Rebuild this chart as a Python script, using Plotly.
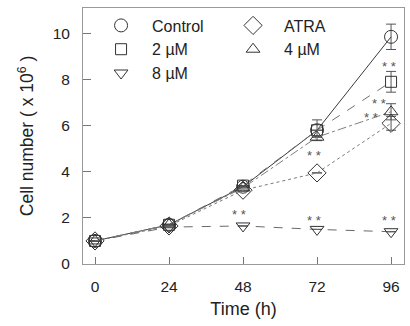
import plotly.graph_objects as go

# Time points (h) and cell counts (x 10^6) for each treatment
hours = [0, 24, 48, 72, 96]
control = [1.0, 1.7, 3.35, 5.8, 9.85]
control_err = [0, 0, 0, 0, 0.55]
um2 = [1.0, 1.7, 3.4, 5.8, 7.9]
um2_err = [0, 0, 0, 0.45, 0.45]
um4 = [1.0, 1.7, 3.3, 5.5, 6.6]
um4_err = [0, 0, 0, 0, 0.35]
atra = [1.0, 1.65, 3.2, 3.95, 6.1]
atra_err = [0, 0, 0, 0, 0.3]
um8 = [1.0, 1.6, 1.65, 1.5, 1.4]
um8_err = [0, 0, 0, 0, 0]

x_ticks = [0, 24, 48, 72, 96]
y_ticks = [0, 2, 4, 6, 8, 10]

FONT = "Liberation Sans, Arial, sans-serif"
INK = "#222222"

series = [
    # name, values, errors, symbol, size, line colour, dash
    ("Control", control, control_err, "circle-open", 13, "#3a3a3a", "solid"),
    ("2 µM", um2, um2_err, "square-open", 11, "#707070", "dash"),
    ("4 µM", um4, um4_err, "triangle-up-open", 12, "#808080", "dashdot"),
    ("ATRA", atra, atra_err, "diamond-open", 14, "#7a7a7a", "dot"),
    ("8 µM", um8, um8_err, "triangle-down-open", 12, "#6a6a6a", "dash"),
]

fig = go.Figure()
for name, vals, errs, sym, size, col, dash in series:
    fig.add_trace(go.Scatter(
        x=hours, y=vals, mode="lines+markers", showlegend=False,
        line=dict(color=col, width=1, dash=dash),
        marker=dict(symbol=sym, size=size, color="#333333",
                    line=dict(width=1, color="#333333")),
        error_y=dict(type="data", array=errs, visible=True,
                     color="#555555", thickness=1, width=5),
    ))

# Legend entries (markers only), ordered so two columns form
legend_order = ["Control", "ATRA", "2 µM", "4 µM", "8 µM"]
lookup = {s[0]: s for s in series}
for name in legend_order:
    _, _, _, sym, size, _, _ = lookup[name]
    fig.add_trace(go.Scatter(
        x=[None], y=[None], mode="markers", name=name,
        marker=dict(symbol=sym, size=size, color="#333333",
                    line=dict(width=1, color="#333333")),
    ))

# Significance marks (**) above selected points
sig_marks = [
    ("2 µM", 96, -2, 15),
    ("4 µM", 96, -12, 8),
    ("ATRA", 96, -20, 6),
    ("ATRA", 72, -3, 17),
    ("8 µM", 48, -4, 11),
    ("8 µM", 72, -3, 9),
    ("8 µM", 96, -2, 11),
]
for name, t, dx, dy in sig_marks:
    vals = lookup[name][1]
    fig.add_annotation(
        x=t, y=vals[hours.index(t)], text="* *", showarrow=False,
        xshift=dx, yshift=dy,
        font=dict(family=FONT, size=13, color="#555555"),
    )

fig.update_layout(
    width=410, height=326,
    margin=dict(l=83, r=6, t=8, b=62),
    paper_bgcolor="white", plot_bgcolor="white",
    font=dict(family=FONT, size=13, color=INK),
    legend=dict(
        orientation="h", x=0.022, y=0.998, xanchor="left", yanchor="top",
        entrywidth=65, entrywidthmode="pixels",
        font=dict(family=FONT, size=16, color=INK),
        bgcolor="rgba(0,0,0,0)", itemwidth=52, tracegroupgap=0,
    ),
    xaxis=dict(
        range=[-3.9, 100.2], tickvals=x_ticks, ticks="inside", ticklen=7,
        tickcolor="#777777", showline=True, linecolor="#999999", linewidth=1,
        mirror=True, showgrid=False, zeroline=False, ticklabelstandoff=8,
        tickfont=dict(family=FONT, size=15.5, color=INK),
        title=dict(text="Time (h)", font=dict(family=FONT, size=18, color=INK),
                   standoff=8),
    ),
    yaxis=dict(
        range=[0, 11.1], tickvals=y_ticks, ticks="inside", ticklen=8,
        tickcolor="#777777", showline=True, linecolor="#999999", linewidth=1,
        mirror=True, showgrid=False, zeroline=False, ticklabelstandoff=9,
        tickfont=dict(family=FONT, size=15.5, color=INK),
        title=dict(text="Cell number ( x 10<sup>6</sup> )",
                   font=dict(family=FONT, size=17.5, color=INK), standoff=14),
    ),
)

fig.write_html("out.html")
